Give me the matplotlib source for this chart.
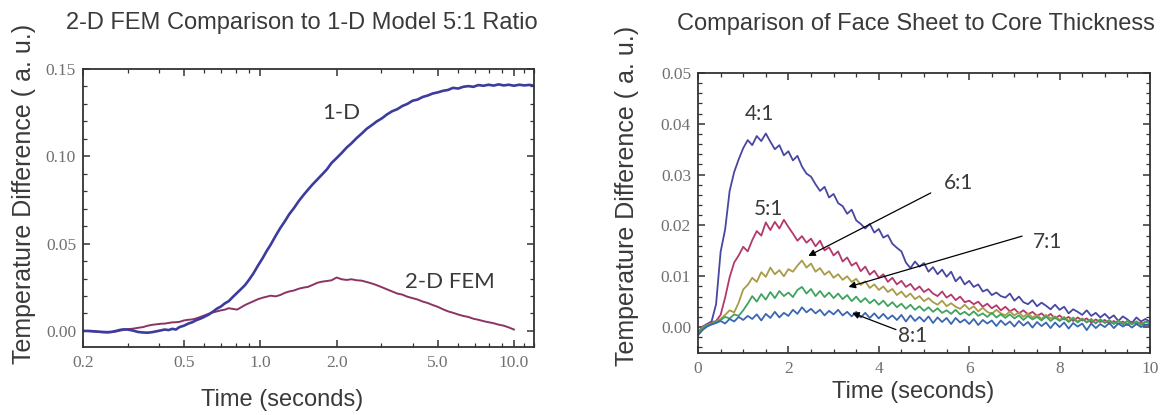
"""Two-panel thermal response comparison: 1-D vs 2-D FEM, and face-sheet / core ratios."""
import numpy as np
import matplotlib
matplotlib.use("Agg")
import matplotlib.pyplot as plt
from matplotlib.ticker import FixedLocator, NullFormatter

# ---- left panel: 5:1 ratio, log time axis ----
time_left = [0.200, 0.210, 0.220, 0.230, 0.240, 0.250, 0.260, 0.270, 0.280, 0.290,
             0.300, 0.315, 0.330, 0.345, 0.360, 0.375, 0.390, 0.405, 0.420, 0.435,
             0.450, 0.465, 0.480, 0.500, 0.520, 0.540, 0.560, 0.580, 0.600, 0.625,
             0.650, 0.675, 0.700, 0.725, 0.750, 0.780, 0.810, 0.840, 0.870, 0.900,
             0.940, 0.980, 1.020, 1.060, 1.100, 1.150, 1.200, 1.250, 1.300, 1.360,
             1.420, 1.480, 1.540, 1.610, 1.680, 1.750, 1.830, 1.910, 2.000, 2.090,
             2.190, 2.290, 2.400, 2.510, 2.630, 2.750, 2.880, 3.020, 3.160, 3.310,
             3.470, 3.630, 3.800, 3.980, 4.170, 4.370, 4.570, 4.790, 5.010, 5.250,
             5.500, 5.750, 6.030, 6.310, 6.610, 6.920, 7.240, 7.590, 7.940, 8.320,
             8.710, 9.120, 9.550, 10.00]
time_left_tail = [10.5, 11.0, 11.5, 12.0]

one_d = [0.0000, 0.0000, -0.0002, -0.0004, -0.0006, -0.0007, -0.0005, 0.0000, 0.0006, 0.0009,
         0.0008, 0.0002, -0.0006, -0.0009, -0.0010, -0.0007, -0.0002, 0.0003, 0.0008, 0.0005,
         0.0012, 0.0008, 0.0022, 0.0030, 0.0042, 0.0050, 0.0062, 0.0070, 0.0080, 0.0093,
         0.0110, 0.0128, 0.0140, 0.0158, 0.0170, 0.0195, 0.0218, 0.0240, 0.0262, 0.0290,
         0.0330, 0.0375, 0.0415, 0.0458, 0.0495, 0.0545, 0.0590, 0.0628, 0.0668, 0.0705,
         0.0745, 0.0778, 0.0808, 0.0840, 0.0868, 0.0895, 0.0925, 0.0962, 0.0990, 0.1018,
         0.1050, 0.1075, 0.1105, 0.1130, 0.1158, 0.1178, 0.1200, 0.1218, 0.1240, 0.1258,
         0.1270, 0.1288, 0.1300, 0.1318, 0.1325, 0.1340, 0.1348, 0.1360, 0.1366, 0.1375,
         0.1380, 0.1392, 0.1388, 0.1398, 0.1402, 0.1398, 0.1408, 0.1404, 0.1410, 0.1405,
         0.1412, 0.1406, 0.1410, 0.1404]
one_d_tail = [0.1410, 0.1406, 0.1409, 0.1405]

fem_2d = [0.0000, -0.0001, -0.0003, -0.0006, -0.0008, -0.0009, -0.0007, -0.0003, 0.0002, 0.0006,
          0.0010, 0.0013, 0.0018, 0.0022, 0.0030, 0.0035, 0.0038, 0.0041, 0.0042, 0.0046,
          0.0049, 0.0050, 0.0052, 0.0060, 0.0064, 0.0066, 0.0072, 0.0080, 0.0088, 0.0098,
          0.0106, 0.0112, 0.0118, 0.0122, 0.0130, 0.0126, 0.0122, 0.0135, 0.0148, 0.0158,
          0.0170, 0.0182, 0.0190, 0.0196, 0.0202, 0.0198, 0.0206, 0.0218, 0.0226, 0.0232,
          0.0242, 0.0248, 0.0252, 0.0264, 0.0276, 0.0282, 0.0286, 0.0290, 0.0306, 0.0296,
          0.0292, 0.0296, 0.0290, 0.0288, 0.0280, 0.0272, 0.0262, 0.0250, 0.0238, 0.0226,
          0.0214, 0.0208, 0.0196, 0.0188, 0.0180, 0.0168, 0.0160, 0.0148, 0.0138, 0.0124,
          0.0112, 0.0104, 0.0094, 0.0086, 0.0080, 0.0070, 0.0064, 0.0056, 0.0050, 0.0044,
          0.0036, 0.0030, 0.0020, 0.0008]

left_ticks = [0.2, 0.5, 1.0, 2.0, 5.0, 10.0]
left_tick_labels = ["0.2", "0.5", "1.0", "2.0", "5.0", "10.0"]
left_minor = [0.3, 0.4, 0.6, 0.7, 0.8, 0.9, 3.0, 4.0, 6.0, 7.0, 8.0, 9.0, 11.0, 12.0]

# ---- right panel: face sheet to core thickness ratios ----
time_right = np.linspace(0, 10, 101)

ratio_4 = [-0.0012, 0.0001, 0.0006, 0.0011, 0.0045, 0.0148, 0.0192, 0.0268, 0.0305, 0.0330,
           0.0352, 0.0368, 0.0358, 0.0376, 0.0366, 0.0381, 0.0365, 0.0350, 0.0358, 0.0338,
           0.0346, 0.0328, 0.0337, 0.0316, 0.0302, 0.0296, 0.0281, 0.0268, 0.0276, 0.0255,
           0.0262, 0.0244, 0.0238, 0.0223, 0.0231, 0.0210, 0.0203, 0.0194, 0.0203, 0.0186,
           0.0193, 0.0176, 0.0181, 0.0164, 0.0156, 0.0149, 0.0127, 0.0116, 0.0129, 0.0119,
           0.0126, 0.0109, 0.0118, 0.0104, 0.0113, 0.0099, 0.0109, 0.0090, 0.0099, 0.0084,
           0.0091, 0.0079, 0.0084, 0.0070, 0.0074, 0.0063, 0.0068, 0.0061, 0.0058, 0.0066,
           0.0052, 0.0060, 0.0049, 0.0045, 0.0053, 0.0041, 0.0048, 0.0042, 0.0035, 0.0044,
           0.0034, 0.0040, 0.0027, 0.0035, 0.0030, 0.0024, 0.0033, 0.0022, 0.0028, 0.0019,
           0.0026, 0.0017, 0.0023, 0.0012, 0.0021, 0.0015, 0.0008, 0.0019, 0.0011, 0.0016,
           0.0010]
ratio_5 = [-0.0010, 0.0000, 0.0004, 0.0009, 0.0012, 0.0024, 0.0058, 0.0098, 0.0127, 0.0141,
           0.0158, 0.0149, 0.0171, 0.0189, 0.0180, 0.0206, 0.0191, 0.0207, 0.0194, 0.0211,
           0.0197, 0.0184, 0.0170, 0.0179, 0.0166, 0.0174, 0.0159, 0.0170, 0.0151, 0.0157,
           0.0141, 0.0149, 0.0129, 0.0137, 0.0121, 0.0127, 0.0110, 0.0119, 0.0103, 0.0111,
           0.0097, 0.0104, 0.0089, 0.0097, 0.0084, 0.0091, 0.0079, 0.0085, 0.0073, 0.0080,
           0.0069, 0.0075, 0.0066, 0.0061, 0.0070, 0.0058, 0.0064, 0.0053, 0.0060, 0.0049,
           0.0052, 0.0045, 0.0050, 0.0040, 0.0046, 0.0037, 0.0043, 0.0033, 0.0040, 0.0031,
           0.0036, 0.0027, 0.0033, 0.0025, 0.0030, 0.0022, 0.0027, 0.0019, 0.0026, 0.0017,
           0.0023, 0.0015, 0.0020, 0.0012, 0.0019, 0.0013, 0.0017, 0.0009, 0.0015, 0.0010,
           0.0014, 0.0007, 0.0012, 0.0006, 0.0011, 0.0004, 0.0010, 0.0006, 0.0009, 0.0004,
           0.0006]
ratio_6 = [-0.0011, -0.0001, 0.0004, 0.0007, 0.0011, 0.0016, 0.0024, 0.0033, 0.0029, 0.0048,
           0.0074, 0.0083, 0.0097, 0.0089, 0.0108, 0.0099, 0.0117, 0.0104, 0.0112, 0.0100,
           0.0114, 0.0109, 0.0121, 0.0131, 0.0117, 0.0125, 0.0109, 0.0116, 0.0103, 0.0110,
           0.0097, 0.0104, 0.0093, 0.0100, 0.0089, 0.0095, 0.0083, 0.0090, 0.0077, 0.0084,
           0.0073, 0.0080, 0.0069, 0.0075, 0.0063, 0.0070, 0.0059, 0.0066, 0.0055, 0.0061,
           0.0051, 0.0057, 0.0049, 0.0044, 0.0052, 0.0041, 0.0047, 0.0040, 0.0036, 0.0044,
           0.0035, 0.0041, 0.0031, 0.0038, 0.0030, 0.0026, 0.0034, 0.0027, 0.0023, 0.0031,
           0.0023, 0.0029, 0.0020, 0.0027, 0.0019, 0.0024, 0.0016, 0.0024, 0.0017, 0.0021,
           0.0014, 0.0020, 0.0012, 0.0019, 0.0011, 0.0017, 0.0010, 0.0016, 0.0008, 0.0015,
           0.0009, 0.0014, 0.0007, 0.0012, 0.0006, 0.0012, 0.0005, 0.0011, 0.0006, 0.0010,
           0.0008]
ratio_7 = [-0.0013, -0.0003, 0.0003, 0.0006, 0.0010, 0.0014, 0.0020, 0.0017, 0.0025, 0.0022,
           0.0033, 0.0046, 0.0061, 0.0050, 0.0065, 0.0054, 0.0069, 0.0057, 0.0071, 0.0061,
           0.0068, 0.0059, 0.0073, 0.0079, 0.0066, 0.0075, 0.0061, 0.0071, 0.0059, 0.0068,
           0.0057, 0.0066, 0.0055, 0.0063, 0.0051, 0.0060, 0.0049, 0.0057, 0.0047, 0.0054,
           0.0044, 0.0052, 0.0041, 0.0049, 0.0039, 0.0046, 0.0036, 0.0044, 0.0034, 0.0041,
           0.0032, 0.0039, 0.0030, 0.0037, 0.0028, 0.0033, 0.0026, 0.0034, 0.0025, 0.0030,
           0.0023, 0.0031, 0.0022, 0.0027, 0.0020, 0.0028, 0.0019, 0.0025, 0.0018, 0.0025,
           0.0017, 0.0023, 0.0014, 0.0022, 0.0015, 0.0020, 0.0013, 0.0021, 0.0012, 0.0019,
           0.0012, 0.0018, 0.0010, 0.0017, 0.0009, 0.0016, 0.0009, 0.0015, 0.0007, 0.0015,
           0.0008, 0.0013, 0.0006, 0.0013, 0.0005, 0.0012, 0.0006, 0.0011, 0.0004, 0.0011,
           0.0008]
ratio_8 = [-0.0016, -0.0006, 0.0001, 0.0005, 0.0008, 0.0012, 0.0007, 0.0016, 0.0011, 0.0020,
           0.0014, 0.0022, 0.0016, 0.0025, 0.0013, 0.0026, 0.0018, 0.0030, 0.0019, 0.0028,
           0.0022, 0.0034, 0.0026, 0.0039, 0.0029, 0.0036, 0.0027, 0.0034, 0.0023, 0.0032,
           0.0025, 0.0034, 0.0023, 0.0030, 0.0021, 0.0030, 0.0019, 0.0028, 0.0018, 0.0027,
           0.0017, 0.0026, 0.0016, 0.0023, 0.0014, 0.0024, 0.0011, 0.0023, 0.0012, 0.0020,
           0.0011, 0.0021, 0.0008, 0.0019, 0.0010, 0.0018, 0.0006, 0.0018, 0.0009, 0.0015,
           0.0006, 0.0016, 0.0004, 0.0014, 0.0007, 0.0013, 0.0002, 0.0013, 0.0004, 0.0011,
           0.0001, 0.0012, 0.0003, 0.0010, -0.0001, 0.0010, 0.0002, 0.0009, -0.0002, 0.0009,
           0.0000, 0.0009, -0.0003, 0.0008, 0.0001, 0.0007, -0.0006, 0.0007, -0.0002, 0.0006,
           0.0000, 0.0008, -0.0002, 0.0007, 0.0001, 0.0006, -0.0001, 0.0006, 0.0000, 0.0005,
           0.0003]

ratio_labels = ["4:1", "5:1", "6:1", "7:1", "8:1"]
ratio_colors = ["#4747a3", "#b3386d", "#a89b47", "#3fa35f", "#3a66b2"]

W, H = 1174, 415
TXT = "#3a3a3a"
TICKC = "#707070"


def px(x, y):
    return x / W, 1 - y / H


def style_axes(ax):
    for s in ax.spines.values():
        s.set_color("#333333")
        s.set_linewidth(1.3)
    ax.tick_params(which="both", direction="in", top=True, right=True,
                   colors="#333333", labelcolor=TICKC, labelsize=12.5)
    ax.tick_params(which="major", length=5, width=1.1)
    ax.tick_params(which="minor", length=3, width=0.9)
    ax.tick_params(axis="x", pad=6)
    ax.tick_params(axis="y", pad=5)
    for lab in ax.get_xticklabels() + ax.get_yticklabels():
        lab.set_family("Liberation Serif")


fig = plt.figure(figsize=(W / 100, H / 100), dpi=100)

# left panel
ax1 = fig.add_axes([83 / W, 1 - 347 / H, (534 - 83) / W, (347 - 69) / H])
ax1.plot(time_left, fem_2d, color="#8c3366", lw=1.4)
ax1.plot(time_left + time_left_tail, one_d + one_d_tail, color="#3c3c9e", lw=1.9)
ax1.set_xscale("log")
ax1.set_xlim(0.2, 12.0)
ax1.set_ylim(-0.0092, 0.15)
ax1.xaxis.set_major_locator(FixedLocator(left_ticks))
ax1.set_xticklabels(left_tick_labels)
ax1.xaxis.set_minor_locator(FixedLocator(left_minor))
ax1.xaxis.set_minor_formatter(NullFormatter())
ax1.set_yticks([0.0, 0.05, 0.10, 0.15])
ax1.set_yticklabels(["0.00", "0.05", "0.10", "0.15"])
ax1.yaxis.set_minor_locator(FixedLocator([i / 100 for i in range(-1, 16)]))
style_axes(ax1)
ax1.text(2.08, 0.1248, "1-D", fontsize=16, family="Lato", color=TXT, ha="center", va="center")
ax1.text(5.6, 0.0282, "2-D FEM", fontsize=16, family="Lato", color=TXT, ha="center", va="center")

# right panel
ax2 = fig.add_axes([698 / W, 1 - 353 / H, (1150 - 698) / W, (353 - 73) / H])
for vals, col in zip([ratio_4, ratio_5, ratio_6, ratio_7, ratio_8], ratio_colors):
    ax2.plot(time_right, vals, color=col, lw=1.3)
ax2.set_xlim(0, 10)
ax2.set_ylim(-0.0051, 0.05)
ax2.set_xticks([0, 2, 4, 6, 8, 10])
ax2.xaxis.set_minor_locator(FixedLocator([i * 0.5 for i in range(21)]))
ax2.set_yticks([0.0, 0.01, 0.02, 0.03, 0.04, 0.05])
ax2.set_yticklabels(["0.00", "0.01", "0.02", "0.03", "0.04", "0.05"])
ax2.yaxis.set_minor_locator(FixedLocator([i * 0.002 for i in range(-2, 26)]))
style_axes(ax2)

ann_font = dict(fontsize=15, family="Lato", color=TXT, ha="center", va="center")
ax2.text(1.37, 0.0419, ratio_labels[0], **ann_font)
ax2.text(1.55, 0.0232, ratio_labels[1], **ann_font)
ax2.text(5.76, 0.0284, ratio_labels[2], **ann_font)
ax2.text(7.74, 0.0168, ratio_labels[3], **ann_font)
ax2.text(4.75, -0.0018, ratio_labels[4], **ann_font)
arrow = dict(arrowstyle="-|>", color="black", lw=0.9, mutation_scale=10, shrinkA=0, shrinkB=0)
ax2.annotate("", xy=(2.44, 0.0140), xytext=(5.15, 0.0264), arrowprops=arrow)
ax2.annotate("", xy=(3.33, 0.0079), xytext=(7.17, 0.0179), arrowprops=arrow)
ax2.annotate("", xy=(3.41, 0.0028), xytext=(4.38, -0.0005), arrowprops=arrow)

# titles and axis labels placed in figure pixels
lab = dict(family="Liberation Sans", color=TXT, ha="center", va="center")
fig.text(*px(302, 23), "2-D FEM Comparison to 1-D Model 5:1 Ratio", fontsize=17, **lab)
fig.text(*px(916, 24), "Comparison of Face Sheet to Core Thickness", fontsize=17, **lab)
fig.text(*px(282, 400), "Time (seconds)", fontsize=17, **lab)
fig.text(*px(913, 392), "Time (seconds)", fontsize=17, **lab)
fig.text(*px(24, 194), "Temperature Difference ( a. u.)", fontsize=18, rotation=90, **lab)
fig.text(*px(627, 196), "Temperature Difference ( a. u.)", fontsize=18, rotation=90, **lab)

fig.savefig("out.png", dpi=100)
